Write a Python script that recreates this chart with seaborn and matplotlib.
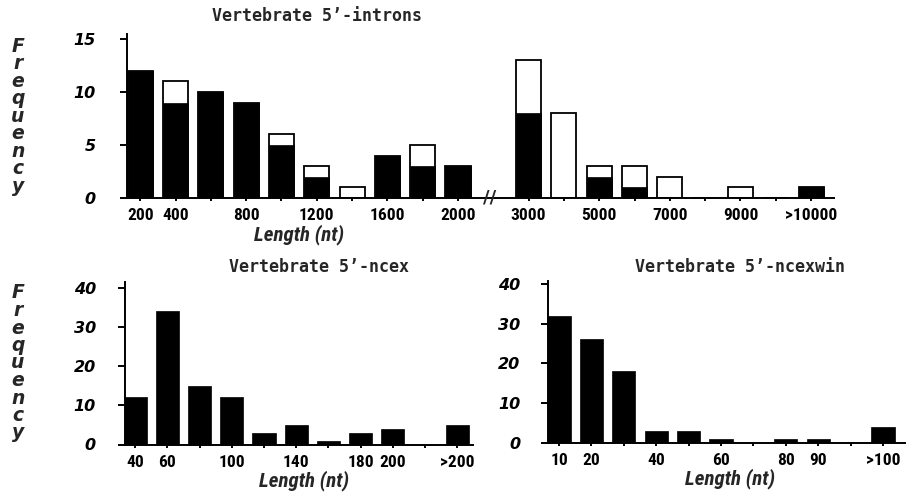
import numpy as np
import pandas as pd
import matplotlib
matplotlib.use("Agg")
import matplotlib.pyplot as plt
from matplotlib import font_manager
import seaborn as sns

# ---- data -------------------------------------------------------------
# 5'-intron lengths: short block (200-2000 nt) and long block (3000 nt and up)
intron_bins = ["200", "400", "600", "800", "1000", "1200", "1400", "1600", "1800", "2000",
               "3000", "4000", "5000", "6000", "7000", "8000", "9000", "10000", ">10000"]
intron_filled = [12, 9, 10, 9, 5, 2, 0, 4, 3, 3, 8, 0, 2, 1, 0, 0, 0, 0, 1]
intron_open = [0, 2, 0, 0, 1, 1, 1, 0, 2, 0, 5, 8, 1, 2, 2, 0, 1, 0, 0]
intron_tick_labels = ["200", "400", "", "800", "", "1200", "", "1600", "", "2000",
                      "3000", "", "5000", "", "7000", "", "9000", "", ">10000"]

# 5'-ncex lengths
ncex_bins = ["40", "60", "80", "100", "120", "140", "160", "180", "200", "220", ">200"]
ncex_counts = [12, 34, 15, 12, 3, 5, 1, 3, 4, 0, 5]
ncex_tick_labels = ["40", "60", "", "100", "", "140", "", "180", "200", "", ">200"]

# 5'-ncexwin lengths
ncexwin_bins = ["10", "20", "30", "40", "50", "60", "70", "80", "90", "100", ">100"]
ncexwin_counts = [32, 26, 18, 3, 3, 1, 0, 1, 1, 0, 4]
ncexwin_tick_labels = ["10", "20", "", "40", "", "60", "", "80", "90", "", ">100"]

# ---- style ------------------------------------------------------------
sns.set_style("white")
plt.rcParams["font.family"] = ["DejaVu Sans"]
MONO = "DejaVu Sans Mono"

# pick a narrow face for tick numbers when one is installed
_installed = {(f.name, f.stretch) for f in font_manager.fontManager.ttflist}
_names = {n for n, _ in _installed}
NARROW_FAMILY, NARROW_STRETCH, NARROW_SIZE, LEN_SIZE = "DejaVu Sans", "normal", 10, 12.5
for cand in ("Liberation Sans Narrow", "Roboto Condensed", "Open Sans Condensed",
             "Noto Sans Condensed", "DejaVu Sans Condensed"):
    if cand in _names:
        NARROW_FAMILY, NARROW_SIZE, LEN_SIZE = cand, 12.5, 15
        break
else:
    if ("DejaVu Sans", "condensed") in _installed or ("DejaVu Sans", 87.5) in _installed:
        NARROW_STRETCH, NARROW_SIZE, LEN_SIZE = "condensed", 11, 13.5

LW = 1.4

fig = plt.figure(figsize=(9.11, 4.92), dpi=100)
fig.patch.set_facecolor("white")


def px_rect(left, right, bottom, top):
    W, H = 911.0, 492.0
    return [left / W, 1 - bottom / H, (right - left) / W, (bottom - top) / H]


def style_axis(ax, yticks, xpos, xlabels, xlim, ylim, ypad):
    sns.despine(ax=ax)
    for side in ("left", "bottom"):
        ax.spines[side].set_linewidth(LW)
        ax.spines[side].set_color("black")
    ax.set_xlim(*xlim)
    ax.set_ylim(*ylim)
    ax.set_yticks(yticks)
    ax.set_yticklabels([str(v) for v in yticks],
                       fontdict=dict(family="DejaVu Sans", weight="bold",
                                     style="italic", size=11.5))
    ax.set_xticks(xpos)
    ax.set_xticklabels(xlabels, fontdict=dict(family=NARROW_FAMILY, weight="bold",
                                              stretch=NARROW_STRETCH, size=NARROW_SIZE))
    ax.tick_params(axis="y", direction="out", length=5, width=LW, pad=ypad,
                   left=True, colors="black")
    ax.tick_params(axis="x", direction="out", length=2.5, width=LW, pad=5,
                   bottom=True, colors="black")
    ax.set_xlabel("")
    ax.set_ylabel("")
    ax.grid(False)
    ax.set_facecolor("white")


def length_label(x_px, y_px):
    fig.text(x_px / 911, 1 - y_px / 492, "Length (nt)", ha="center", va="center",
             family=NARROW_FAMILY, stretch=NARROW_STRETCH, weight="bold",
             style="italic", size=LEN_SIZE)


def frequency_label(y_px):
    fig.text(18 / 911, 1 - y_px / 492, "\n".join("Frequency"), ha="center",
             va="center", family="DejaVu Sans", weight="bold", style="italic",
             size=13.5, linespacing=0.9)


def title(x_px, y_px, s):
    fig.text(x_px / 911, 1 - y_px / 492, s, ha="center", va="center",
             family=MONO, weight="bold", size=12)


# ---- top: 5'-introns (stacked filled / open) ---------------------------
gap = "\u2009"  # empty slot where the axis is broken
top_order = intron_bins[:10] + [gap] + intron_bins[10:]
df_introns = pd.DataFrame({
    "bin": intron_bins,
    "filled": intron_filled,
    "total": np.array(intron_filled) + np.array(intron_open),
})

ax_top = fig.add_axes(px_rect(126.5, 834, 198, 33.7))
sns.barplot(data=df_introns, x="bin", y="total", order=top_order, color="white",
            edgecolor="black", linewidth=1.3, width=0.71, saturation=1,
            errorbar=None, ax=ax_top)
sns.barplot(data=df_introns, x="bin", y="filled", order=top_order, color="black",
            edgecolor="black", linewidth=0.5, width=0.71, saturation=1,
            errorbar=None, ax=ax_top)
top_pos = [top_order.index(b) for b in intron_bins]
style_axis(ax_top, [0, 5, 10, 15], top_pos, intron_tick_labels,
           (-0.39, 19.65), (0, 15.5), 17)
# axis break mark
gap_x = top_order.index(gap)
ax_top.text(gap_x - 0.1, 0, "//", ha="center", va="center", family="DejaVu Sans",
            weight="bold", size=13, clip_on=False)
title(317, 16, "Vertebrate 5\u2019-introns")
length_label(299, 235)
frequency_label(116)

# ---- bottom left: 5'-ncex ---------------------------------------------
df_ncex = pd.DataFrame({"bin": ncex_bins, "count": ncex_counts})
ax_bl = fig.add_axes(px_rect(125, 473, 444.5, 281.8))
sns.barplot(data=df_ncex, x="bin", y="count", order=ncex_bins, color="black",
            edgecolor="black", linewidth=0.5, width=0.72, saturation=1,
            errorbar=None, ax=ax_bl)
style_axis(ax_bl, [0, 10, 20, 30, 40], list(range(len(ncex_bins))), ncex_tick_labels,
           (-0.32, 10.49), (0, 41.5), 16)
title(319, 267, "Vertebrate 5\u2019-ncex")
length_label(304, 481)
frequency_label(363)

# ---- bottom right: 5'-ncexwin -----------------------------------------
df_ncexwin = pd.DataFrame({"bin": ncexwin_bins, "count": ncexwin_counts})
ax_br = fig.add_axes(px_rect(548, 905, 442.7, 280.7))
sns.barplot(data=df_ncexwin, x="bin", y="count", order=ncexwin_bins, color="black",
            edgecolor="black", linewidth=0.5, width=0.72, saturation=1,
            errorbar=None, ax=ax_br)
style_axis(ax_br, [0, 10, 20, 30, 40], list(range(len(ncexwin_bins))),
           ncexwin_tick_labels, (-0.34, 10.68), (0, 40.8), 15)
title(740, 267, "Vertebrate 5\u2019-ncexwin")
length_label(730, 479)

fig.savefig("out.png", dpi=100, facecolor="white")
